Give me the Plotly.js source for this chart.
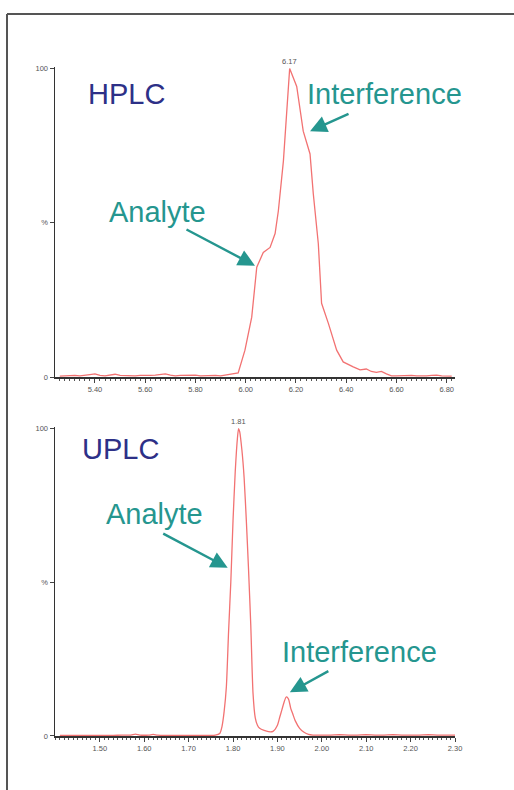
<!DOCTYPE html>
<html>
<head>
<meta charset="utf-8">
<script src="https://cdn.plot.ly/plotly-3.0.1.min.js"></script>
<style>html,body{margin:0;padding:0;background:#fff}#chart{width:514px;height:790px}</style>
</head>
<body>
<div id="chart"></div>
<script>
// HPLC chromatogram (time, min ; relative intensity, %)
const hplcTime = [5.26,5.28,5.30,5.32,5.34,5.36,5.38,5.40,5.42,5.44,5.46,5.48,5.50,5.52,5.54,5.56,5.58,5.60,5.62,5.64,5.66,5.68,5.70,5.72,5.74,5.76,5.78,5.80,5.82,5.84,5.86,5.88,5.90,5.92,5.94,5.97,5.997,6.024,6.044,6.07,6.097,6.117,6.13,6.15,6.175,6.203,6.229,6.256,6.269,6.28,6.289,6.302,6.329,6.362,6.388,6.428,6.455,6.48,6.50,6.52,6.54,6.56,6.58,6.60,6.62,6.64,6.66,6.68,6.70,6.72,6.74,6.76,6.78,6.80,6.82];
const hplcSignal = [0.3,0.4,0.3,0.5,0.4,0.5,0.8,1.0,0.5,0.4,0.6,0.9,0.5,0.4,0.5,0.4,0.5,0.4,0.5,0.6,0.7,1.0,0.6,0.4,0.5,0.6,0.5,0.6,0.4,0.5,0.6,0.5,0.4,0.6,0.8,1.3,8.7,19.4,35.6,40.4,42.0,46.5,53.9,70,100,94.2,79.7,72.3,59.4,50.6,43.2,23.9,17.4,8.7,4.9,3.3,2.3,2.6,1.8,1.5,1.8,1.0,0.4,0.4,0.5,0.4,0.5,0.4,0.3,0.4,0.5,0.6,0.4,0.3,0.3];
// UPLC chromatogram
const uplcTime = [1.41,1.43,1.45,1.47,1.49,1.51,1.53,1.55,1.57,1.58,1.59,1.61,1.62,1.63,1.65,1.67,1.69,1.71,1.73,1.75,1.76,1.77,1.775,1.78,1.785,1.79,1.795,1.80,1.805,1.81,1.8125,1.815,1.82,1.825,1.83,1.835,1.84,1.845,1.85,1.855,1.86,1.87,1.88,1.89,1.90,1.905,1.91,1.915,1.92,1.925,1.93,1.935,1.94,1.95,1.96,1.97,1.98,2.00,2.02,2.04,2.06,2.08,2.10,2.12,2.14,2.16,2.18,2.20,2.22,2.24,2.26,2.28,2.30];
const uplcSignal = [0.2,0.2,0.2,0.2,0.2,0.2,0.2,0.3,0.3,0.6,0.3,0.3,0.5,0.3,0.2,0.2,0.2,0.2,0.2,0.2,0.3,0.8,3,8,16,34,50,70,86,97,100,99,93,84,70,54,36,14,6,3.5,2.5,1.8,1.4,1.5,3.5,6,8.5,11,12.7,12,9,7,5,2.5,1.2,0.5,0.3,0.3,0.3,0.4,0.3,0.3,0.4,0.3,0.3,0.4,0.3,0.3,0.3,0.4,0.3,0.3,0.3];

const hplcTicks = [5.40,5.60,5.80,6.00,6.20,6.40,6.60,6.80];
const uplcTicks = [1.50,1.60,1.70,1.80,1.90,2.00,2.10,2.20,2.30];
const yTickVals = [0,50,100];
const yTickText = ['0','%','100'];
const hplcPeak = {t:6.175, label:'6.17'};
const uplcPeak = {t:1.8125, label:'1.81'};

const lineColor = '#f27272';
const teal = '#25968f';
const navy = '#2d3087';
const font = 'Liberation Sans, Arial, sans-serif';
const tickFont = {family: font, size: 7.5, color: '#555'};

const data = [
  {x: hplcTime, y: hplcSignal, xaxis:'x', yaxis:'y', mode:'lines', line:{color:lineColor, width:1.3}, hoverinfo:'skip'},
  {x: uplcTime, y: uplcSignal, xaxis:'x2', yaxis:'y2', mode:'lines', line:{color:lineColor, width:1.3, shape:'spline', smoothing:0.6}, hoverinfo:'skip'}
];

function xax(ticks, range, minorD, anchor){
  return {
    domain:[0,1], anchor: anchor, range: range, tickvals: ticks,
    ticktext: ticks.map(v=>v.toFixed(2)),
    ticks:'outside', ticklen:4, tickwidth:1, tickcolor:'#444',
    minor:{dtick:minorD, tick0:0, ticks:'outside', ticklen:2.5, tickcolor:'#555', tickwidth:1},
    showline:true, linecolor:'#333', linewidth:1.5, showgrid:false, zeroline:false,
    tickfont: tickFont, fixedrange:true
  };
}
function yax(dom, anchor){
  return {
    domain: dom, anchor: anchor, range:[0,100.5], tickvals: yTickVals, ticktext: yTickText,
    ticks:'outside', ticklen:4, tickcolor:'#444', showline:true, linecolor:'#333', linewidth:1.5,
    showgrid:false, zeroline:false, tickfont: tickFont, fixedrange:true
  };
}

const bigFont = (c)=>({family: font, size: 29, color: c});
const arrow = (xr, yr, x, y, ax, ay)=>({xref:xr, yref:yr, x:x, y:y, ax:ax, ay:ay, text:'', showarrow:true,
  arrowhead:2, arrowsize:1.4, arrowwidth:2.4, arrowcolor:teal});

const layout = {
  width:514, height:790,
  margin:{l:55, r:59, t:67, b:54},
  paper_bgcolor:'#fff', plot_bgcolor:'#fff',
  showlegend:false,
  xaxis: xax(hplcTicks, [5.241, 6.833], 0.02, 'y'),
  yaxis: yax([0.5366, 1], 'x'),
  xaxis2: xax(uplcTicks, [1.399, 2.30], 0.01, 'y2'),
  yaxis2: yax([0, 0.4619], 'x2'),
  shapes:[
    {type:'line', xref:'paper', yref:'paper', x0:-0.12, x1:-0.12, y0:1.0792, y1:-0.09, line:{color:'#555', width:2}},
    {type:'line', xref:'paper', yref:'paper', x0:-0.12, x1:1.16, y0:1.0792, y1:1.0792, line:{color:'#555', width:2}}
  ],
  annotations:[
    {xref:'x', yref:'y', x:5.527, y:91.6, text:'HPLC', showarrow:false, font:bigFont(navy)},
    {xref:'x', yref:'y', x:6.554, y:91.9, text:'Interference', showarrow:false, font:bigFont(teal)},
    {xref:'x', yref:'y', x:5.647, y:53.5, text:'Analyte', showarrow:false, font:bigFont(teal)},
    arrow('x','y', 6.256, 79.7, 40, -18),
    arrow('x','y', 6.037, 36.1, -70, -37),
    {xref:'x2', yref:'y2', x:1.547, y:93.5, text:'UPLC', showarrow:false, font:bigFont(navy)},
    {xref:'x2', yref:'y2', x:1.624, y:72.2, text:'Analyte', showarrow:false, font:bigFont(teal)},
    {xref:'x2', yref:'y2', x:2.084, y:27.2, text:'Interference', showarrow:false, font:bigFont(teal)},
    arrow('x2','y2', 1.788, 54.7, -66, -35),
    arrow('x2','y2', 1.928, 14.2, 40, -22),
    {xref:'x', yref:'y', x:hplcPeak.t, y:100, text:hplcPeak.label, showarrow:false, yanchor:'bottom', yshift:1, font:tickFont},
    {xref:'x2', yref:'y2', x:uplcPeak.t, y:100, text:uplcPeak.label, showarrow:false, yanchor:'bottom', yshift:1, font:tickFont},
    {xref:'x', yref:'y', x:6.855, y:0, text:'Time', showarrow:false, xanchor:'left', yanchor:'middle', yshift:1, font:tickFont},
    {xref:'x2', yref:'y2', x:2.311, y:0, text:'Time', showarrow:false, xanchor:'left', yanchor:'middle', yshift:3, font:tickFont}
  ]
};

Plotly.newPlot('chart', data, layout, {displayModeBar:false, staticPlot:true});
</script>
</body>
</html>
